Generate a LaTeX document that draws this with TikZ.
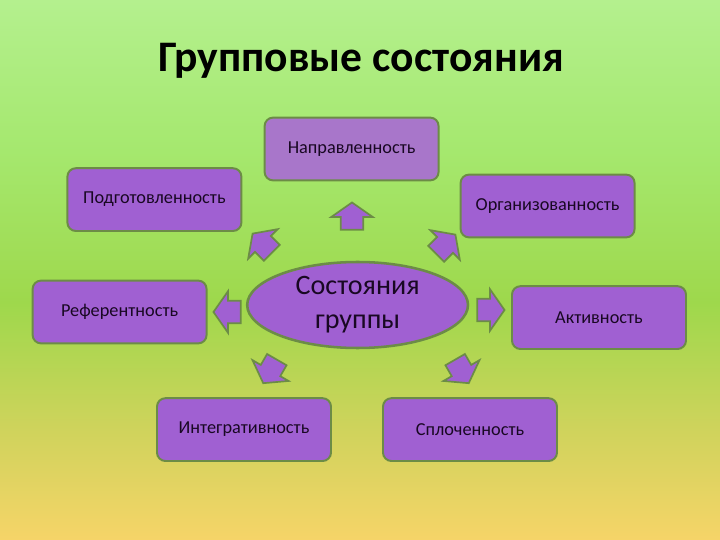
\documentclass[tikz,border=0pt]{standalone}
\usepackage{fontspec}
\setmainfont{Carlito}
\usepackage{xcolor}
\usepackage{tikz}
\usetikzlibrary{positioning, shapes, shapes.arrows, shapes.geometric}

\definecolor{bgY}{RGB}{246,212,104}
\definecolor{bgYG}{RGB}{208,211,92}
\definecolor{bgG}{RGB}{158,216,76}
\definecolor{bgLG}{RGB}{165,232,110}
\definecolor{bgT}{RGB}{180,240,142}
\definecolor{boxfill}{RGB}{160,96,210}
\definecolor{boxlight}{RGB}{168,118,202}
\definecolor{boxline}{RGB}{108,140,70}
\definecolor{inktext}{RGB}{25,8,35}

\pgfdeclareverticalshading{bgfade}{100bp}{color(0bp)=(bgY); color(25bp)=(bgY); color(35bp)=(bgYG); color(47bp)=(bgG); color(61bp)=(bgLG); color(75bp)=(bgT); color(100bp)=(bgT)}

\begin{document}
\begin{tikzpicture}[
    every node/.style={text=inktext},
    statebox/.style={draw=boxline, line width=1.4pt, fill=boxfill, rounded corners=6pt,
        minimum width=4.35cm, minimum height=1.57cm, align=center, font=\fontsize{13}{15}\selectfont},
    blockarrow/.style={shape=single arrow, draw=boxline, line width=1.2pt, fill=boxfill,
        inner sep=0pt, inner ysep=0.26cm, minimum height=0.68cm,
        single arrow head extend=0.24cm, single arrow tip angle=110}
]

% background
\shade[shading=bgfade] (0,0) rectangle (18,13.5);
\useasboundingbox (0,0) rectangle (18,13.5);

% title
\node[anchor=base, text=black, font=\fontsize{31}{36}\selectfont\bfseries] (title) at (9.03,11.7) {Групповые состояния};

% center
\node[ellipse, draw=boxline, line width=1.8pt, fill=boxfill, minimum width=5.52cm, minimum height=2.15cm,
    inner sep=0pt, align=center, font=\fontsize{20}{24}\selectfont] (center) at (8.94,5.875) {Состояния\\группы};

% states
\node[statebox, fill=boxlight] (napr) at (8.79,9.775) {Направленность};
\node[statebox] (podg) at (3.86,8.51) {Подготовленность};
\node[statebox] (org) at (13.69,8.35) {Организованность};
\node[statebox] (ref) at (2.99,5.70) {Референтность};
\node[statebox] (akt) at (14.975,5.56) {Активность};
\node[statebox] (integ) at (6.10,2.76) {Интегративность};
\node[statebox] (splo) at (11.75,2.76) {Сплоченность};

% arrows
\node[blockarrow, rotate=90] (a-napr) at (8.8,8.0) {};
\node[blockarrow, rotate=135] (a-podg) at (6.625,7.35) {};
\node[blockarrow, rotate=45] (a-org) at (11.075,7.325) {};
\node[blockarrow, rotate=180] (a-ref) at (5.775,5.7) {};
\node[blockarrow] (a-akt) at (12.175,5.75) {};
\node[blockarrow, rotate=240] (a-integ) at (6.8,4.3) {};
\node[blockarrow, rotate=-60] (a-splo) at (11.5,4.3) {};

\end{tikzpicture}
\end{document}
